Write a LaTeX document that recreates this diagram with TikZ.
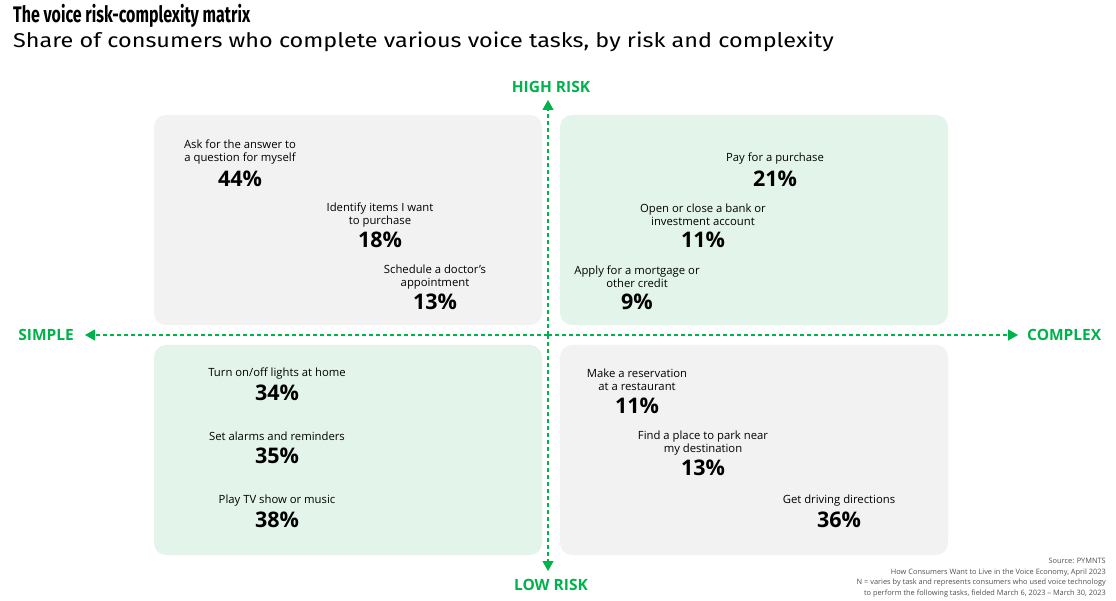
\documentclass[tikz,border=0pt]{standalone}
\usepackage{fontspec}
\setmainfont{Open Sans}
\newfontfamily\titlefont{Fira Sans}
\usetikzlibrary{arrows.meta}
\definecolor{grn}{HTML}{00B24B}
\definecolor{boxgray}{HTML}{F2F2F2}
\definecolor{boxgreen}{HTML}{E3F5EA}
\definecolor{srcgray}{HTML}{505050}
\tikzset{
  quad/.style={rounded corners=12pt, draw=none},
  task/.style={align=center, font=\fontsize{11.3}{12.8}\selectfont, inner sep=0pt, text=black},
  pct/.style={font=\fontsize{21.5}{22}\selectfont\bfseries, inner sep=0pt, text=black},
  axislbl/.style={font=\fontsize{15.5}{17}\selectfont\bfseries, text=grn, inner sep=0pt},
  axisline/.style={draw=grn, line width=1.1pt, dash pattern=on 4pt off 3pt, -{Triangle[width=11pt,length=10pt]}},
}
\begin{document}
\begin{tikzpicture}[x=1pt,y=-1pt]
\useasboundingbox (0,0) rectangle (1116,601);
% title
\node[anchor=base west, inner sep=0pt, font=\titlefont\fontsize{22.5}{26}\selectfont\bfseries] (title) at (13,23) {\scalebox{0.71}[1]{The voice risk-complexity matrix}};
\node[anchor=base west, inner sep=0pt, font=\titlefont\fontsize{20}{24}\selectfont] (subtitle) at (13,48) {\scalebox{1.17}[1]{Share of consumers who complete various voice tasks, by risk and complexity}};
% quadrants
\fill[quad, boxgray] (154,115) rectangle (542,325);
\fill[quad, boxgreen] (560,115) rectangle (948,325);
\fill[quad, boxgreen] (154,345) rectangle (542,555);
\fill[quad, boxgray] (560,345) rectangle (948,555);
% axes
\coordinate (cl) at (548,335);
\coordinate (ct) at (548,335);
\coordinate (lft) at (85,335);
\coordinate (rgt) at (1018,335);
\coordinate (top) at (548,100);
\coordinate (bot) at (548,571);
\draw[axisline] (cl) -- (lft);
\draw[axisline] (cl) -- (rgt);
\draw[axisline] (ct) -- (top);
\draw[axisline] (ct) -- (bot);
\node[axislbl, anchor=east] (simple) at (74,335) {SIMPLE};
\node[axislbl, anchor=west] (complex) at (1027,335) {COMPLEX};
\node[axislbl] (high) at (551,87) {HIGH RISK};
\node[axislbl] (low) at (551,585) {LOW RISK};
% top-left
\node[task] (t1) at (240,152) {Ask for the answer to\\a question for myself};
\node[pct] (p1) at (240,179) {44\%};
\node[task] (t2) at (380,215) {Identify items I want\\to purchase};
\node[pct] (p2) at (380,240) {18\%};
\node[task] (t3) at (435,277) {Schedule a doctor's\\appointment};
\node[pct] (p3) at (435,302) {13\%};
% top-right
\node[task] (t4) at (775,159) {Pay for a purchase};
\node[pct] (p4) at (775,179) {21\%};
\node[task] (t5) at (703,215) {Open or close a bank or\\investment account};
\node[pct] (p5) at (703,240) {11\%};
\node[task] (t6) at (637,277) {Apply for a mortgage or\\other credit};
\node[pct] (p6) at (637,302) {9\%};
% bottom-left
\node[task] (t7) at (277,374) {Turn on/off lights at home};
\node[pct] (p7) at (277,393) {34\%};
\node[task] (t8) at (277,436) {Set alarms and reminders};
\node[pct] (p8) at (277,456) {35\%};
\node[task] (t9) at (277,501) {Play TV show or music};
\node[pct] (p9) at (277,520) {38\%};
% bottom-right
\node[task] (t10) at (637,380) {Make a reservation\\at a restaurant};
\node[pct] (p10) at (637,406) {11\%};
\node[task] (t11) at (703,443) {Find a place to park near\\my destination};
\node[pct] (p11) at (703,468) {13\%};
\node[task] (t12) at (839,501) {Get driving directions};
\node[pct] (p12) at (839,520) {36\%};
% source
\node[anchor=north east, align=right, inner sep=0pt, text=srcgray, font=\fontsize{7.4}{10.6}\selectfont] (src) at (1106,558) {Source: PYMNTS\\How Consumers Want to Live in the Voice Economy, April 2023\\N = varies by task and represents consumers who used voice technology\\to perform the following tasks, fielded March 6, 2023 -- March 30, 2023};
\end{tikzpicture}
\end{document}
